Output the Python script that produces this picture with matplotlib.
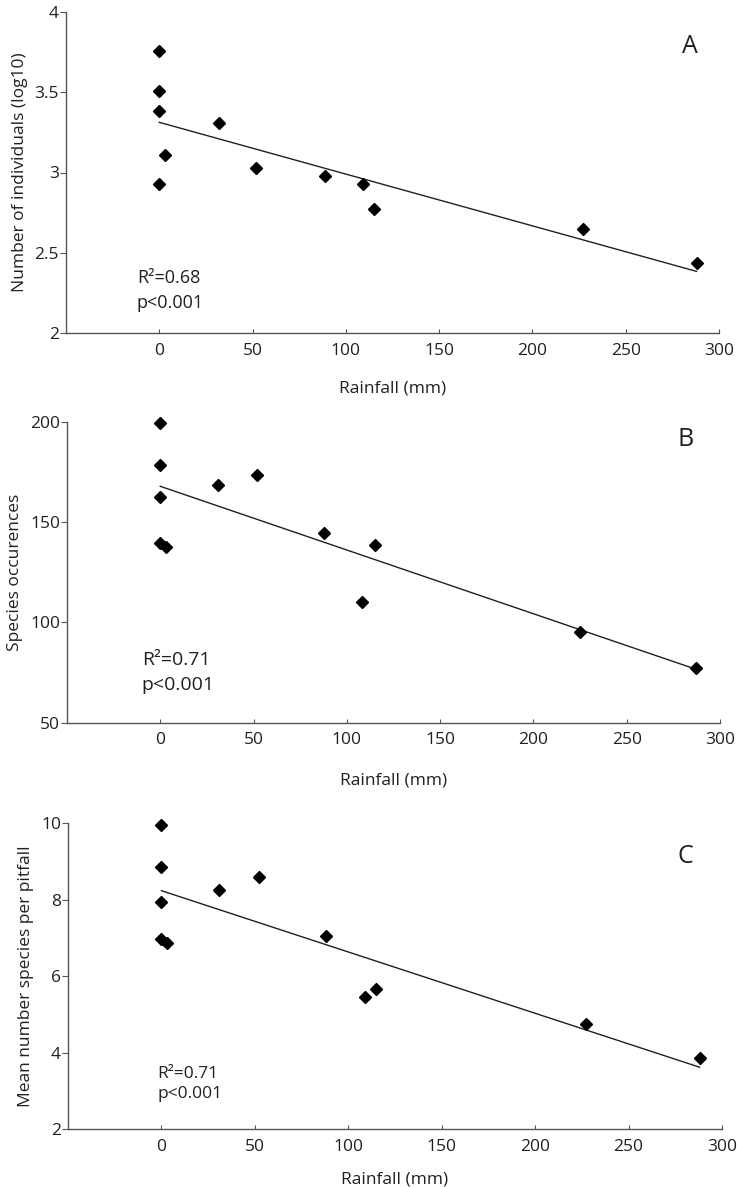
import numpy as np
import matplotlib
matplotlib.use("Agg")
import matplotlib.pyplot as plt

plt.rcParams['font.family'] = ['Open Sans', 'DejaVu Sans']

"---------------------------------------DATA--------------------------------------------"
# Rainfall (mm) for each sampling point, per panel
rain_a = [0, 0, 0, 3, 0, 32, 52, 89, 109, 115, 227, 288]
rain_b = [0, 0, 0, 0, 3, 31, 52, 88, 108, 115, 225, 287]
rain_c = [0, 0, 0, 0, 3, 31, 52, 88, 109, 115, 227, 288]

# Number of individuals (log10)
indiv_log = [3.76, 3.51, 3.385, 3.11, 2.93, 3.31, 3.03, 2.98, 2.93, 2.77, 2.65, 2.435]
# Species occurences
occurences = [199.5, 178.5, 162.5, 139.5, 137.5, 168.5, 173.5, 144.3, 110.3, 138.5, 95.2, 77.2]
# Mean number species per pitfall
species_pitfall = [9.96, 8.85, 7.95, 6.97, 6.86, 8.26, 8.6, 7.05, 5.45, 5.66, 4.76, 3.86]

ylabels = ["Number of individuals (log10)", "Species occurences", "Mean number species per pitfall"]
letters = ["A", "B", "C"]
stats = [("R\u00b2=0.68", "p<0.001"), ("R\u00b2=0.71", "p<0.001"), ("R\u00b2=0.71", "p<0.001")]

"---------------------------------------FIGURE------------------------------------------"
W, H = 737, 1187
fig = plt.figure(figsize=(W / 100, H / 100), dpi=100)

ink = "#231f20"

# panel boxes in pixels: left, top, right, bottom
boxes = [(66, 12, 719, 333), (67, 421.7, 720, 722.7), (68, 823.3, 722, 1129.3)]
ylims = [(2, 4), (50, 200), (2, 10)]
yticks = [[2, 2.5, 3, 3.5, 4], [50, 100, 150, 200], [2, 4, 6, 8, 10]]
ytick_labels = [["2", "2.5", "3", "3.5", "4"], ["50", "100", "150", "200"], ["2", "4", "6", "8", "10"]]
xlabel_pads = [16, 17, 12]
# text positions in data coords
stat_pos = [(-12, 2.31, 2.154, 13), (-10, 78.8, 66.3, 14), (-2, 3.35, 2.82, 12.5)]
letter_pos = [(280, 3.745), (277, 188), (276, 8.95)]

xs = [rain_a, rain_b, rain_c]
ys = [indiv_log, occurences, species_pitfall]

for i in range(3):
    l, t, r, b = boxes[i]
    ax = fig.add_axes([l / W, 1 - b / H, (r - l) / W, (b - t) / H])
    x = np.array(xs[i], dtype=float)
    y = np.array(ys[i], dtype=float)

    # fitted regression line
    slope, intercept = np.polyfit(x, y, 1)
    xl = np.array([x.min(), x.max()])
    ax.plot(xl, intercept + slope * xl, color=ink, lw=1.0)

    ax.plot(x, y, linestyle="none", marker="D", ms=6, color="black", mec="black", clip_on=False)

    ax.set_xlim(-50, 300)
    ax.set_ylim(*ylims[i])
    ax.set_xticks([0, 50, 100, 150, 200, 250, 300])
    ax.set_yticks(yticks[i])
    ax.set_yticklabels(ytick_labels[i])

    for side in ["top", "right"]:
        ax.spines[side].set_visible(False)
    for side in ["left", "bottom"]:
        ax.spines[side].set_color("#555555")
        ax.spines[side].set_linewidth(1.0)

    ax.tick_params(axis="x", direction="in", length=3, width=0.8, color="#555555",
                   labelsize=12.5, labelcolor=ink, pad=7)
    ax.tick_params(axis="y", direction="out", length=4, width=0.8, color="#555555",
                   labelsize=12.5, labelcolor=ink, pad=1)

    ax.set_xlabel("Rainfall (mm)", fontsize=12.5, color=ink, labelpad=xlabel_pads[i])
    ax.set_ylabel(ylabels[i], fontsize=12.5, color=ink, labelpad=5)

    sx, sy1, sy2, fs = stat_pos[i]
    ax.text(sx, sy1, stats[i][0], fontsize=fs, color=ink, ha="left", va="baseline")
    ax.text(sx, sy2, stats[i][1], fontsize=fs, color=ink, ha="left", va="baseline")

    lx, ly = letter_pos[i]
    ax.text(lx, ly, letters[i], fontsize=18, color=ink, ha="left", va="baseline")

plt.savefig("out.png", dpi=100)
